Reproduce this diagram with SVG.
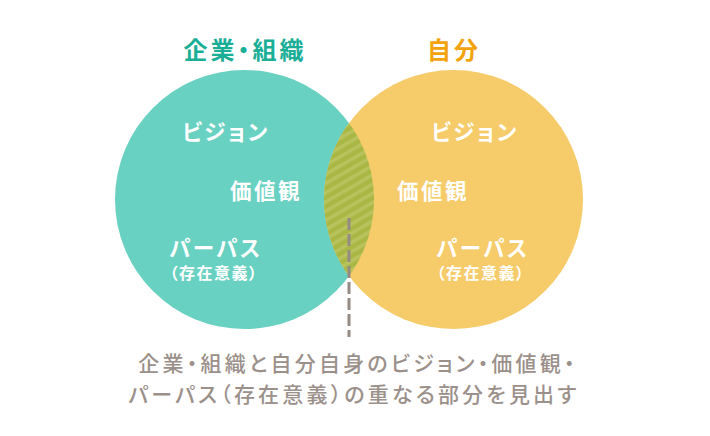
<svg xmlns="http://www.w3.org/2000/svg" width="710" height="436" viewBox="0 0 710 436">
<style>
text{font-family:"Noto Sans CJK JP","Noto Sans",sans-serif;font-weight:700;text-anchor:middle;font-feature-settings:"palt"}
.in{fill:#ffffff;font-size:21.5px;letter-spacing:2.5px}
.sm{fill:#ffffff;font-size:16px;letter-spacing:1.5px}
.title{font-size:24px;letter-spacing:3px}
.cap{fill:#9b908a;font-size:21px;letter-spacing:3.2px;font-weight:500}
</style>
<defs>
<pattern id="hatch" patternUnits="userSpaceOnUse" width="8" height="8" patternTransform="rotate(-30)">
<rect width="8" height="8" fill="#a9b744"/>
<rect width="8" height="3.5" fill="#b9c35e"/>
</pattern>
<clipPath id="leftClip"><circle cx="244.5" cy="199.5" r="129.5"/></clipPath>
</defs>
<g id="circle-company">
<circle cx="244.5" cy="199.5" r="129.5" fill="#68d1c1"/>
</g>
<g id="circle-self">
<circle cx="453.5" cy="199.5" r="129.5" fill="#f6cb69"/>
</g>
<g id="overlap">
<circle cx="453.5" cy="199.5" r="129.5" fill="url(#hatch)" clip-path="url(#leftClip)"/>
</g>
<g id="connectors">
<line x1="349" y1="218" x2="349" y2="337" stroke="#958a84" stroke-width="3" stroke-dasharray="12 4"/>
</g>
<g id="label-company">
<text class="title" x="245" y="59" fill="#1aae97">企業・組織</text>
</g>
<g id="label-self">
<text class="title" x="454" y="59" fill="#f2a30b">自分</text>
</g>
<g id="company-items">
<text class="in" x="226" y="139.5">ビジョン</text>
<text class="in" x="266" y="198.5">価値観</text>
<text class="in" x="216" y="255.5">パーパス</text>
<text class="sm" x="214" y="278.5">（存在意義）</text>
</g>
<g id="self-items">
<text class="in" x="475" y="139.5">ビジョン</text>
<text class="in" x="433" y="198.5">価値観</text>
<text class="in" x="483" y="255.5">パーパス</text>
<text class="sm" x="481" y="278.5">（存在意義）</text>
</g>
<g id="caption">
<text class="cap" x="358" y="371">企業・組織と自分自身のビジョン・価値観・</text>
<text class="cap" x="354" y="402">パーパス（存在意義）の重なる部分を見出す</text>
</g>
</svg>
